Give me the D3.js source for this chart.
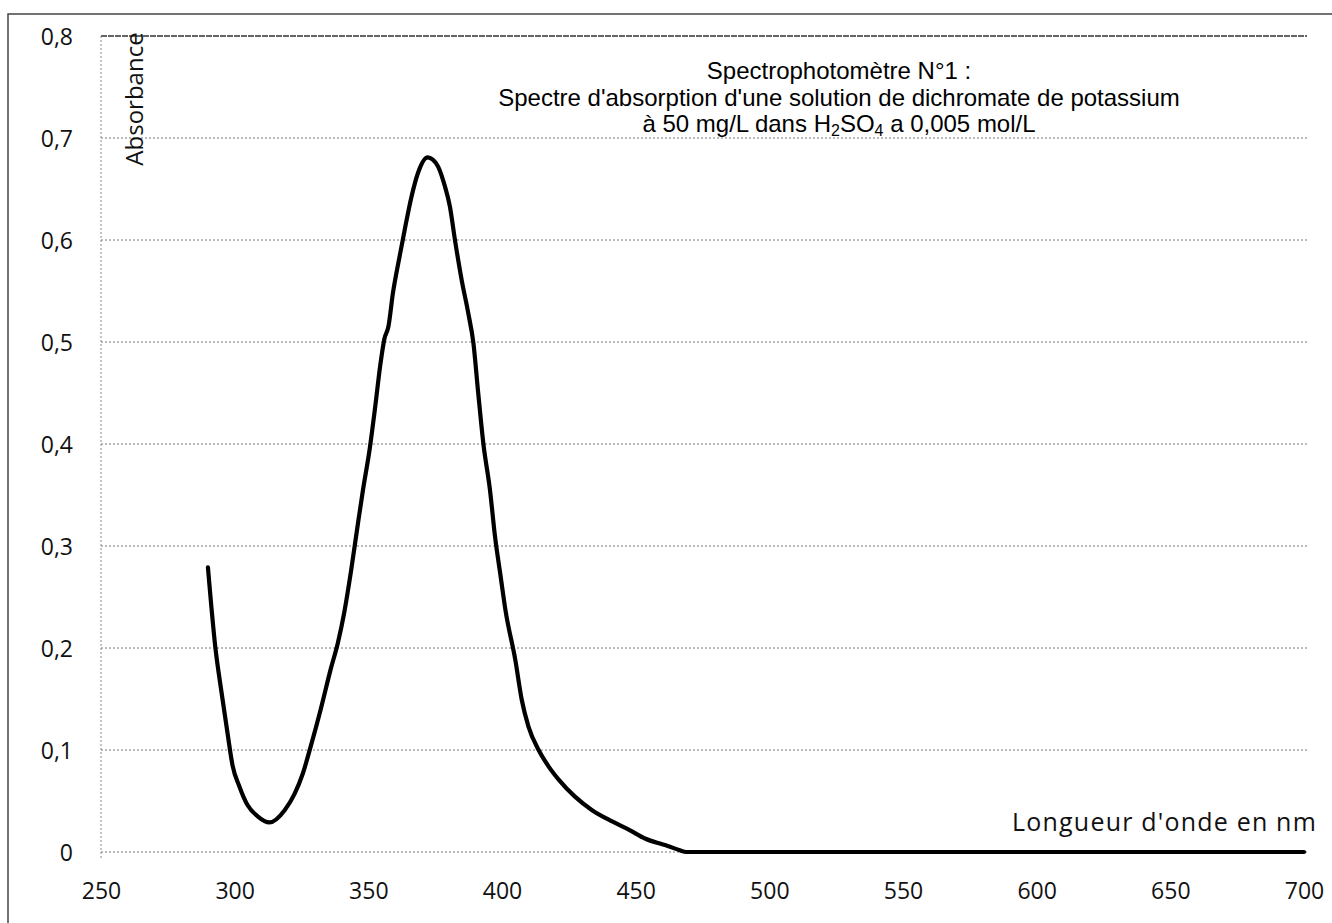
<!DOCTYPE html>
<html lang="fr">
    <head>
        <meta charset="utf-8">
        <title>Spectre d'absorption - dichromate de potassium</title>
        <script type="text/javascript" src="https://cdn.jsdelivr.net/npm/d3@7"></script>
        <style type="text/css">
            body { margin: 0; background: #fff; }
            .tick-label {
                font-family: "Open Sans", sans-serif;
                font-size: 23px;
                fill: #111;
            }
            .title {
                font-family: "Liberation Sans", Arial, sans-serif;
                font-size: 24px;
                fill: #000;
            }
        </style>
    </head>
    <body>
        <script type="text/javascript">

            // Wavelength (nm) and absorbance
            var wavelength = [290, 292.8, 295, 297.3, 299.2, 301.8, 304.8, 308.6, 313, 318.7,
                              322.4, 325.5, 328.5, 332.2, 336, 338.6, 341, 343.5, 346, 348,
                              350.5, 352.5, 354.5, 356, 357.5, 359.2, 361.7, 363.6, 366.1, 368.6,
                              372.2, 374, 376.1, 378.6, 380.5, 382.4, 384.9, 387.4, 389.3, 391.1,
                              393, 395.5, 397.4, 399.5, 401.3, 405, 407.4, 409.9, 413.7, 417.4,
                              421.2, 427.4, 433.7, 441.2, 447.4, 453.7, 458.7, 462, 466.2, 469,
                              500, 600, 700];
            var absorbance = [0.279, 0.20, 0.158, 0.117, 0.085, 0.064, 0.046, 0.035, 0.029, 0.041,
                              0.057, 0.077, 0.104, 0.14, 0.18, 0.205, 0.235, 0.275, 0.32, 0.355,
                              0.395, 0.435, 0.478, 0.503, 0.515, 0.548, 0.584, 0.610, 0.642, 0.666,
                              0.681, 0.679, 0.672, 0.653, 0.633, 0.600, 0.561, 0.528, 0.499, 0.450,
                              0.401, 0.355, 0.309, 0.27, 0.237, 0.188, 0.149, 0.123, 0.100, 0.084,
                              0.071, 0.054, 0.041, 0.030, 0.022, 0.013, 0.0085, 0.006, 0.002, 0,
                              0, 0, 0];

            var xTicks = [250, 300, 350, 400, 450, 500, 550, 600, 650, 700];
            var yTicks = [0, 0.1, 0.2, 0.3, 0.4, 0.5, 0.6, 0.7, 0.8];
            var yTickLabels = ["0", "0,1", "0,2", "0,3", "0,4", "0,5", "0,6", "0,7", "0,8"];

            var titleLines = ["Spectrophotomètre N°1 :",
                              "Spectre d'absorption  d'une solution de dichromate de potassium",
                              "à 50 mg/L dans H|2|SO|4| a 0,005 mol/L"];

            var w = 1332;
            var h = 923;

            var xScale = d3.scaleLinear()
                           .domain([250, 700])
                           .range([101, 1304]);

            var yScale = d3.scaleLinear()
                           .domain([0, 0.8])
                           .range([852, 36]);

            var svg = d3.select("body")
                        .append("svg")
                        .attr("width", w)
                        .attr("height", h);

            // outer frame (right and bottom edges fall outside the scan)
            svg.append("rect")
               .attr("x", 8)
               .attr("y", 14)
               .attr("width", 1400)
               .attr("height", 1000)
               .attr("fill", "none")
               .attr("stroke", "#444")
               .attr("stroke-width", 1.5);

            // horizontal dotted gridlines
            svg.append("g")
               .selectAll("line")
               .data(yTicks)
               .enter()
               .append("line")
               .attr("x1", xScale(250))
               .attr("x2", xScale(700) + 3)
               .attr("y1", function(d) { return yScale(d); })
               .attr("y2", function(d) { return yScale(d); })
               .attr("stroke", function(d) { return d === 0.8 ? "#333" : "#777"; })
               .attr("stroke-width", function(d) { return d === 0.8 ? 1.3 : 1; })
               .attr("stroke-dasharray", function(d) { return d === 0.8 ? "6,1" : "2,2"; });

            // left vertical dotted axis line
            svg.append("line")
               .attr("x1", xScale(250))
               .attr("x2", xScale(250))
               .attr("y1", yScale(0.8))
               .attr("y2", yScale(0) + 8)
               .attr("stroke", "#888")
               .attr("stroke-dasharray", "2,2");

            // Y axis tick labels
            var yAxis = d3.axisLeft(yScale)
                          .tickValues(yTicks)
                          .tickSize(0)
                          .tickPadding(28)
                          .tickFormat(function(d, i) { return yTickLabels[i]; });

            var gy = svg.append("g")
                        .attr("transform", "translate(" + xScale(250) + ",0)")
                        .call(yAxis);
            gy.select(".domain").remove();
            gy.selectAll("text")
              .attr("class", "tick-label")
              .attr("font-family", null)
              .attr("font-size", null)
              .attr("dy", "0.36em");

            // X axis tick labels
            var xAxis = d3.axisBottom(xScale)
                          .tickValues(xTicks)
                          .tickSize(0)
                          .tickPadding(31)
                          .tickFormat(d3.format("d"));

            var gx = svg.append("g")
                        .attr("transform", "translate(0," + yScale(0) + ")")
                        .call(xAxis);
            gx.select(".domain").remove();
            gx.selectAll("text")
              .attr("class", "tick-label")
              .attr("font-family", null)
              .attr("font-size", null);

            // spectrum curve
            var line = d3.line()
                         .x(function(d, i) { return xScale(wavelength[i]); })
                         .y(function(d) { return yScale(d); })
                         .curve(d3.curveMonotoneX);

            svg.append("path")
               .datum(absorbance)
               .attr("d", line)
               .attr("fill", "none")
               .attr("stroke", "#000")
               .attr("stroke-width", 4.2)
               .attr("stroke-linejoin", "round")
               .attr("stroke-linecap", "round");

            // axis titles
            svg.append("text")
               .attr("transform", "translate(143,99) rotate(-90)")
               .attr("text-anchor", "middle")
               .attr("font-family", "'Open Sans', sans-serif")
               .attr("font-size", 24)
               .attr("fill", "#111")
               .text("Absorbance");

            svg.append("text")
               .attr("x", 1317)
               .attr("y", 831)
               .attr("text-anchor", "end")
               .attr("font-family", "'Open Sans', sans-serif")
               .attr("font-size", 25)
               .attr("letter-spacing", 1.2)
               .attr("fill", "#111")
               .text("Longueur d'onde en nm");

            // chart title: one text per line, "|" marks subscript runs
            var titleG = svg.append("g").attr("class", "title");

            titleLines.forEach(function(s, i) {
                var t = titleG.append("text")
                              .attr("x", 839)
                              .attr("y", 79 + i * 26.5)
                              .attr("text-anchor", "middle");
                s.split("|").forEach(function(part, j) {
                    if (part === "") return;
                    var sp = t.append("tspan").text(part);
                    if (j % 2 === 1) {
                        sp.attr("font-size", 16).attr("dy", 4);
                    } else if (j > 0) {
                        sp.attr("dy", -4);
                    }
                });
            });

        </script>
    </body>
</html>
